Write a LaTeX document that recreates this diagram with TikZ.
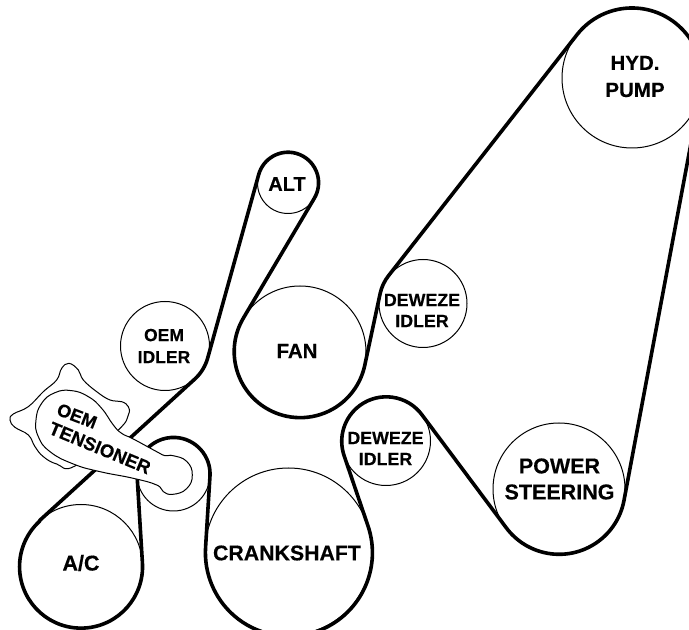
\documentclass[tikz,border=0pt]{standalone}
\usepackage{fontspec}
\setmainfont[BoldFeatures={FakeBold=0.35}]{Liberation Sans}
\begin{document}
\begin{tikzpicture}[x=1pt,y=1pt,
  pulley/.style={circle,draw=black,line width=1pt,inner sep=0pt,outer sep=0pt,minimum size=#1},
  belt/.style={draw=black,line width=3.6pt,line join=round},
  casting/.style={draw=black,fill=white,line width=1pt},
  lab/.style={font=\bfseries\fontsize{#1}{#1}\selectfont,inner sep=0pt,align=center},
  labtwo/.style 2 args={font=\bfseries\fontsize{#1}{#2}\selectfont,inner sep=0pt,align=center}]
\useasboundingbox (0,0) rectangle (689,630);
\clip (0,0) rectangle (689,630);
% pulleys
\node[pulley=140pt] (hyd) at (632,552) {};
\node[pulley=132pt] (ps) at (559,141) {};
\node[pulley=88pt] (du) at (423,326.5) {};
\node[pulley=132pt] (fan) at (300,278) {};
\node[pulley=61pt] (alt) at (288,447) {};
\node[pulley=89pt] (oi) at (165,284) {};
\node[pulley=89pt] (dl) at (386,189) {};
\node[pulley=167pt] (cr) at (288.5,78.5) {};
\node[pulley=123pt] (ac) at (81,64) {};
\node[pulley=73pt] (tp) at (173.5,155.5) {};
% belt
\path[belt] (ac.132.35) -- (oi.312.35)
  arc[start angle=312.35,end angle=344.5,radius=44.5pt]
  -- (alt.164.5)
  arc[start angle=164.5,end angle=-30.66,radius=30.5pt]
  -- (fan.149.34)
  arc[start angle=149.34,end angle=347.82,radius=66pt]
  -- (du.167.82)
  arc[start angle=167.82,end angle=142.02,radius=44pt]
  -- (hyd.142.02)
  arc[start angle=142.02,end angle=-10.62,radius=70pt]
  -- (ps.-10.62)
  arc[start angle=-10.62,end angle=-143.5,radius=66pt]
  -- (dl.36.5)
  arc[start angle=36.5,end angle=198.87,radius=44.5pt]
  -- (cr.18.87)
  arc[start angle=18.87,end angle=-183.9,radius=83.5pt]
  -- (tp.-3.9)
  arc[start angle=-3.9,end angle=183.6,radius=36.5pt]
  -- (ac.3.6)
  arc[start angle=3.6,end angle=-227.65,radius=61.5pt]
  -- cycle;
% tensioner housing and arm (traced coordinates: x/3, 290-y/3)
\begin{scope}[x=0.3333pt,y=-0.3333pt,shift={(0pt,290pt)}]
\draw[casting] plot[smooth cycle,tension=0.7] coordinates {
 (355,270)(385,225)(385,200)(365,185)(330,180)(290,155)(250,120)(235,90)(207,70)(185,85)(170,120)
 (130,155)(85,200)(40,222)(30,240)(45,262)(85,285)(105,320)(130,350)(170,372)(225,378)};
\draw[casting] plot[smooth cycle,tension=0.8] coordinates {
 (519,347)(560,364)(577,405)(560,446)(519,463)(490,455)(470,435)(400,415)(300,395)
 (220,372)(150,335)(115,290)(108,240)(125,190)(165,158)(215,152)(265,170)(305,205)(340,255)
 (365,280)(400,297)(470,335)(495,347)};
\end{scope}
% labels
\node[labtwo={20.5}{27}] (lhyd) at (635,553.5) {HYD.\\PUMP};
\node[labtwo={21.5}{26}] (lps) at (559.5,151) {POWER\\STEERING};
\node[labtwo={17.8}{21}] (ldu) at (422,319.5) {DEWEZE\\IDLER};
\node[labtwo={17.8}{21}] (ldl) at (385.5,181.5) {DEWEZE\\IDLER};
\node[labtwo={17.5}{22}] (loi) at (164,284) {OEM\\IDLER};
\node[lab=20.5] (lfan) at (297,279) {FAN};
\node[lab=20] (lalt) at (287,446) {ALT};
\node[lab=21.3] (lcr) at (287,77) {CRANKSHAFT};
\node[lab=21.5] (lac) at (81,67) {A/C};
\node[lab=18,rotate=-21] (loem) at (77,214) {OEM};
\node[lab=18.5,rotate=-22.5] (lten) at (100,182) {TENSIONER};
\end{tikzpicture}
\end{document}
